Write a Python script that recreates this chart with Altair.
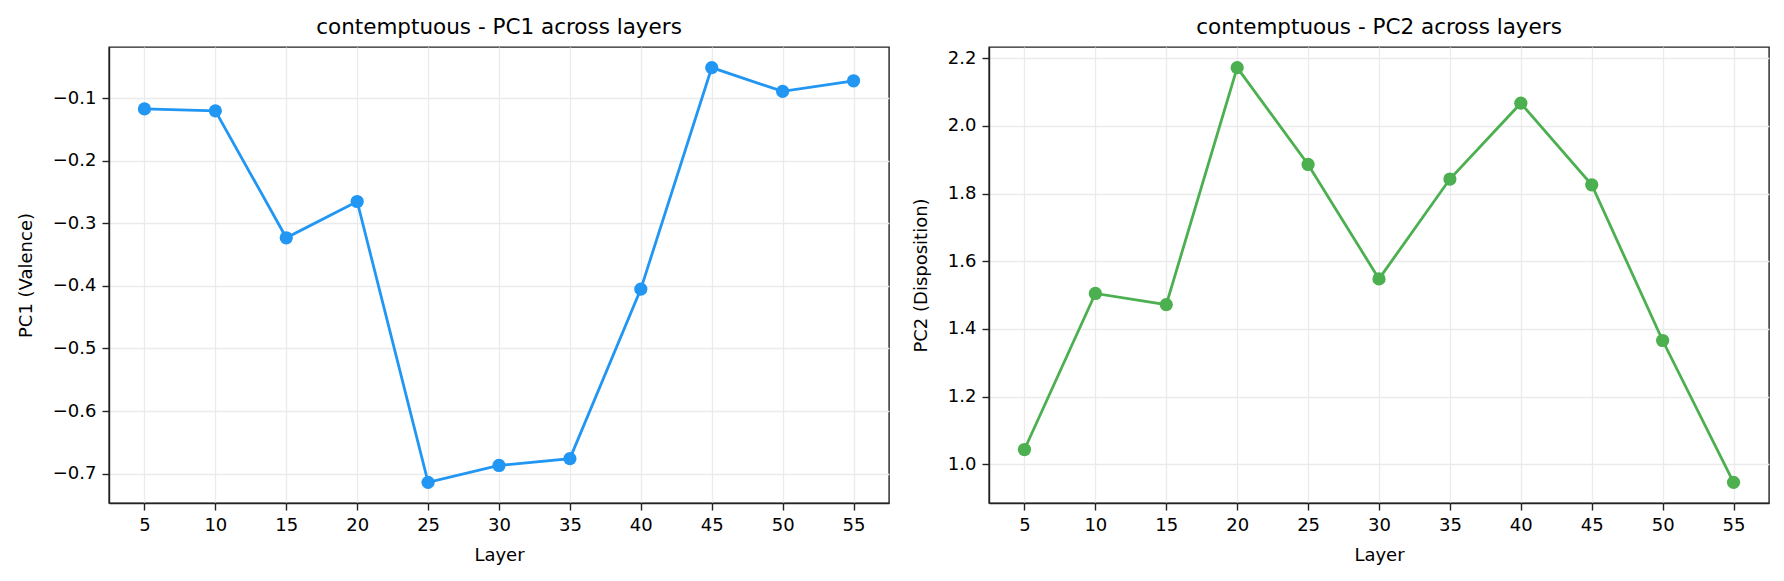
import pandas as pd
import altair as alt

# Layers and the two principal-component readings per layer
layers = [5, 10, 15, 20, 25, 30, 35, 40, 45, 50, 55]
pc1_valence = [-0.117, -0.120, -0.323, -0.265, -0.714, -0.687, -0.676, -0.405, -0.051, -0.089, -0.072]
pc2_disposition = [1.044, 1.505, 1.472, 2.172, 1.886, 1.548, 1.843, 2.067, 1.826, 1.366, 0.947]

pc1_ticks = [-0.7, -0.6, -0.5, -0.4, -0.3, -0.2, -0.1]
pc2_ticks = [1.0, 1.2, 1.4, 1.6, 1.8, 2.0, 2.2]

df = pd.DataFrame({'Layer': layers, 'PC1': pc1_valence, 'PC2': pc2_disposition})

FONT = 'DejaVu Sans'


def panel(field, ytitle, color, ydomain, yticks, title):
    base = alt.Chart(df).encode(
        x=alt.X('Layer:Q',
                scale=alt.Scale(domain=[2.5, 57.5], nice=False, zero=False),
                axis=alt.Axis(values=layers, title='Layer', format='d')),
        y=alt.Y(f'{field}:Q',
                scale=alt.Scale(domain=ydomain, nice=False, zero=False),
                axis=alt.Axis(values=yticks, title=ytitle, format='.1f')),
    )
    line = base.mark_line(color=color, strokeWidth=2.8)
    pts = base.mark_point(filled=True, opacity=1, color=color, size=175)
    return (line + pts).properties(
        width=780, height=456,
        title=alt.TitleParams(title, fontSize=21.5, font=FONT, fontWeight='normal',
                              color='black', offset=9)
    )


left = panel('PC1', 'PC1 (Valence)', '#2196F3', [-0.747, -0.018], pc1_ticks,
             'contemptuous - PC1 across layers')
right = panel('PC2', 'PC2 (Disposition)', '#4CAF50', [0.886, 2.233], pc2_ticks,
              'contemptuous - PC2 across layers')

chart = alt.hconcat(left, right, spacing=21).configure_view(
    stroke='#222222', strokeWidth=1.4
).configure_axis(
    labelFont=FONT, titleFont=FONT, labelFontSize=18, titleFontSize=18,
    labelColor='black', titleColor='black', titleFontWeight='normal',
    domainColor='#222222', domainWidth=1.4,
    tickColor='#222222', tickSize=7, tickWidth=1.4, labelPadding=6,
    gridColor='#ebebeb', gridWidth=1.3,
).configure_axisX(
    titlePadding=12
).configure_axisY(
    titlePadding=17
).properties(
    background='white',
    padding={"left": 8, "top": 7, "right": 5, "bottom": 5}
)

chart.save("out.html", embed_options={"renderer": "svg", "actions": False})
